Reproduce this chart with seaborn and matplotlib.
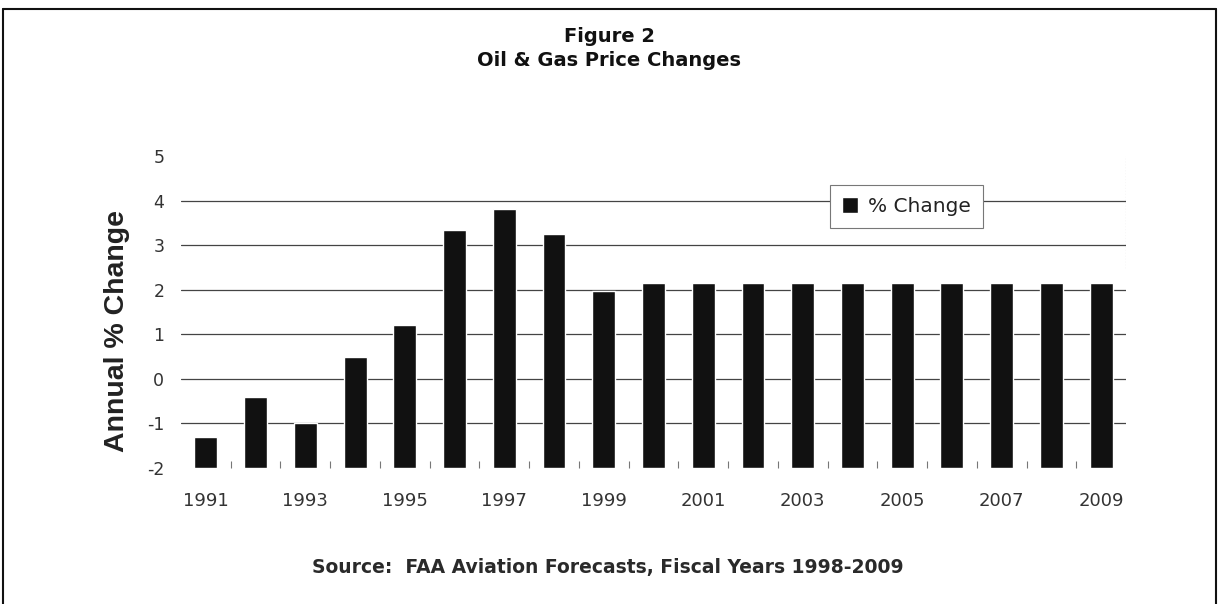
import matplotlib
matplotlib.use("Agg")
import matplotlib.pyplot as plt
from matplotlib.lines import Line2D
import seaborn as sns
import pandas as pd
import numpy as np

years = [str(y) for y in range(1991, 2010)]
pct_change = [-1.3, -0.4, -1.0, 0.5, 1.2, 3.35, 3.82, 3.26, 1.96,
              2.14, 2.14, 2.14, 2.14, 2.14, 2.14, 2.14, 2.14, 2.15, 2.15]
y_ticks = [-2, -1, 0, 1, 2, 3, 4, 5]
x_labels = [y if i % 2 == 0 else "" for i, y in enumerate(years)]
baseline = -2

sns.set_theme(style="white")
plt.rcParams["font.family"] = ["DejaVu Sans"]
plt.rcParams["axes.unicode_minus"] = False

df = pd.DataFrame({"Year": years, "Change": pct_change})
df["Height"] = df["Change"] - baseline

fig = plt.figure(figsize=(12.18, 6.04), dpi=100)
ax = fig.add_axes([181 / 1218, 136 / 604, 945 / 1218, 312 / 604])

sns.barplot(data=df, x="Year", y="Height", ax=ax, color="#111111",
            width=0.46, bottom=baseline, label="% Change", saturation=1)

ax.set_xlim(-0.5, len(years) - 0.5)
ax.set_ylim(-2, 5)
ax.set_yticks(y_ticks)
ax.set_yticklabels([str(t) for t in y_ticks])
ax.set_xticks(range(len(years)))
ax.set_xticklabels(x_labels)
ax.set_xticks(np.arange(len(years) - 1) + 0.5, minor=True)
ax.tick_params(axis="x", which="minor", direction="in", length=5, width=0.8,
               color="#777777", bottom=True)
ax.tick_params(axis="x", which="major", length=0, pad=17, labelsize=13,
               labelcolor="#333333")
ax.tick_params(axis="y", length=0, pad=12, labelsize=12.5, labelcolor="#333333")
ax.set_xlabel("")
ax.set_ylabel("")
for s in ["top", "bottom", "left", "right"]:
    ax.spines[s].set_visible(False)
for t in y_ticks[1:-1]:
    ax.axhline(t, color="#444444", lw=0.9, zorder=0)
ax.axvline(len(years) - 0.5, ymin=0.64, ymax=1.0, color="#888888", lw=0.8,
           ls=":", zorder=0)

leg = ax.legend(loc="upper left", bbox_to_anchor=(0.687, 0.907), frameon=True,
                fontsize=14.5, handlelength=0.8, handleheight=0.8,
                handletextpad=0.5, borderpad=0.6, borderaxespad=0,
                fancybox=False, framealpha=1)
leg.get_frame().set_edgecolor("#777777")
leg.get_frame().set_linewidth(0.8)
for txt in leg.get_texts():
    txt.set_color("#222222")

fig.text(609 / 1218, 1 - 37 / 604, "Figure 2", ha="center", va="center",
         fontsize=14, fontweight="bold", color="#111111")
fig.text(609 / 1218, 1 - 61 / 604, "Oil & Gas Price Changes", ha="center",
         va="center", fontsize=14, fontweight="bold", color="#111111")
fig.text(117 / 1218, 1 - 331 / 604, "Annual % Change", rotation=90,
         ha="center", va="center", fontsize=20.5, fontweight="bold",
         family="Liberation Sans", color="#222222")
fig.text(608 / 1218, 1 - 567 / 604,
         "Source:  FAA Aviation Forecasts, Fiscal Years 1998-2009",
         ha="center", va="center", fontsize=13.5, fontweight="bold",
         color="#2a2a2a")

# figure frame
kw = dict(transform=fig.transFigure, color="#111111", lw=1.5)
fig.add_artist(Line2D([3 / 1218, 3 / 1218], [0, 1 - 9 / 604], **kw))
fig.add_artist(Line2D([3 / 1218, 1216 / 1218], [1 - 9 / 604, 1 - 9 / 604], **kw))
fig.add_artist(Line2D([1216 / 1218, 1216 / 1218], [0, 1 - 9 / 604], **kw))

fig.savefig("out.png", dpi=100)
